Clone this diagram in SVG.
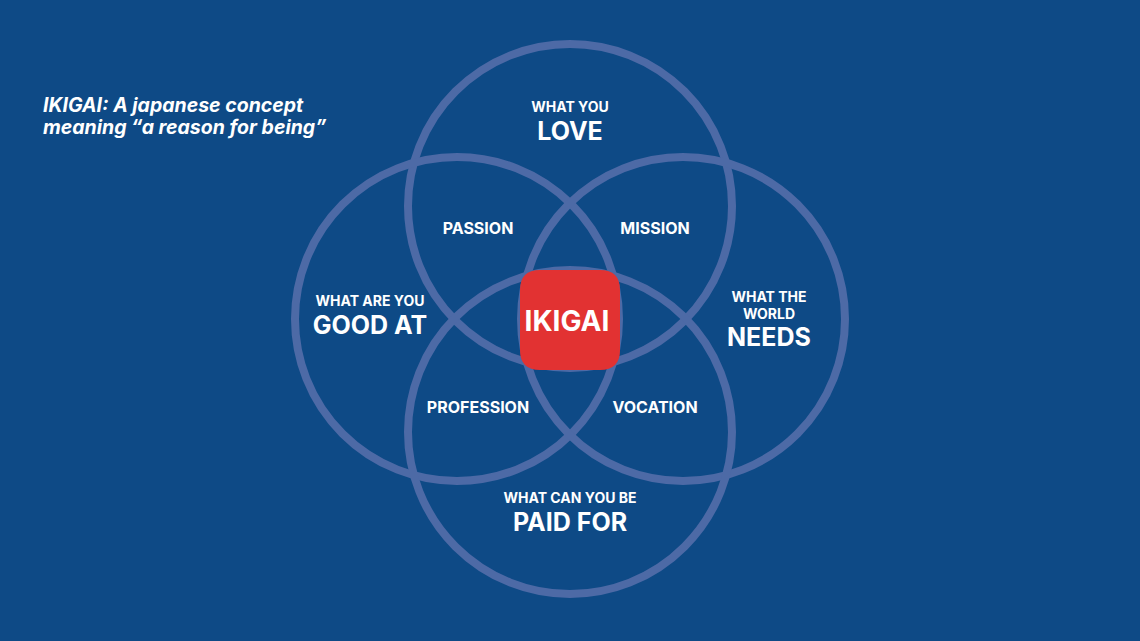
<svg xmlns="http://www.w3.org/2000/svg" width="1140" height="641" viewBox="0 0 1140 641">
<style>
.c{fill:none;stroke:#4d6aa6;stroke-width:8}
text{font-family:Inter,"Liberation Sans",sans-serif;fill:#fff;font-weight:700;text-anchor:middle}
.s{font-size:14px}
.b{font-size:25px}
.m{font-size:16px}
</style>
<rect width="1140" height="641" fill="#0e4a86"/>
<text x="43" y="112" style="font-size:19.5px;font-style:italic;text-anchor:start">IKIGAI: A japanese concept</text>
<text x="43" y="134" style="font-size:19.5px;font-style:italic;text-anchor:start">meaning “a reason for being”</text>
<g id="connectors"></g>
<g id="love"><circle class="c" cx="570" cy="206" r="162"/><text class="s" x="570" y="112">WHAT YOU</text><text class="b" x="570" y="140">LOVE</text></g>
<g id="good"><circle class="c" cx="457" cy="319" r="162"/><text class="s" x="370" y="306">WHAT ARE YOU</text><text class="b" x="370" y="334">GOOD AT</text></g>
<g id="needs"><circle class="c" cx="683" cy="319" r="162"/><text class="s" x="769" y="302">WHAT THE</text><text class="s" x="769" y="319">WORLD</text><text class="b" x="769" y="346">NEEDS</text></g>
<g id="paid"><circle class="c" cx="570" cy="432" r="162"/><text class="s" x="570" y="503">WHAT CAN YOU BE</text><text class="b" x="570" y="531">PAID FOR</text></g>
<g id="passion"><text class="m" x="478" y="234">PASSION</text></g>
<g id="mission"><text class="m" x="655" y="234">MISSION</text></g>
<g id="profession"><text class="m" x="478" y="413">PROFESSION</text></g>
<g id="vocation"><text class="m" x="655" y="413">VOCATION</text></g>
<g id="ikigai"><path d="M540 270 L600 270 Q620 270 620 290 L620 350 Q620 370 600 370 L540 370 Q520 370 520 350 L520 290 Q520 270 540 270 Z" fill="#e23232"/><text x="567" y="331" style="font-size:28px">IKIGAI</text></g>
</svg>
